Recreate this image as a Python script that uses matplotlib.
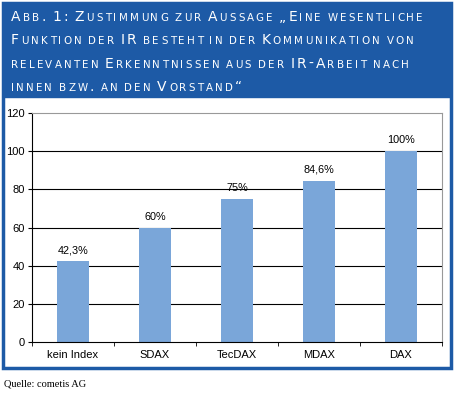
import matplotlib
matplotlib.use('Agg')
import matplotlib.pyplot as plt
from matplotlib.patches import Rectangle

categories = ['kein Index', 'SDAX', 'TecDAX', 'MDAX', 'DAX']
values = [42.3, 60, 75, 84.6, 100]
value_labels = ['42,3%', '60%', '75%', '84,6%', '100%']
title_lines = [
    'Abb. 1: Zustimmung zur Aussage \u201eEine wesentliche',
    'Funktion der IR besteht in der Kommunikation von',
    'relevanten Erkenntnissen aus der IR-Arbeit nach',
    'innen bzw. an den Vorstand\u201c',
]
source = 'Quelle: cometis AG'

W, H = 454, 397
frame_blue = '#1d5aa6'
bar_blue = '#7aa6d9'

fig = plt.figure(figsize=(W / 100, H / 100), dpi=100)


def fx(px):
    return px / W


def fy(py):
    return 1 - py / H


# frame and header
fig.patches.append(Rectangle((fx(3), fy(368)), fx(448), 365 / H, transform=fig.transFigure,
                             facecolor='white', edgecolor=frame_blue, linewidth=2.5, zorder=-2))
fig.patches.append(Rectangle((fx(3), fy(97)), fx(448), 94 / H, transform=fig.transFigure,
                             facecolor=frame_blue, edgecolor=frame_blue, linewidth=1, zorder=-1))

renderer = fig.canvas.get_renderer()


def small_caps(x, y, s, size, track=1.0):
    # fake small caps: lowercase letters drawn as smaller capitals
    for ch in s:
        if ch == ' ':
            x += size * 0.45
            continue
        if ch.islower():
            txt, sz = ch.upper(), size * 0.74
        else:
            txt, sz = ch, size
        t = fig.text(fx(x), fy(y), txt, fontsize=sz, family='DejaVu Sans', color='white',
                     ha='left', va='baseline')
        x += t.get_window_extent(renderer).width + track


for i, line in enumerate(title_lines):
    small_caps(11, 21 + i * 23.3, line, 10, 2.2)

ax = fig.add_axes([fx(32), fy(342), fx(410), (342 - 113) / H])
ax.set_zorder(2)
x = range(len(categories))
ax.bar(x, values, width=0.4, color=bar_blue, zorder=2)
for xi, v, lab in zip(x, values, value_labels):
    ax.text(xi, v + 3, lab, ha='center', va='bottom', fontsize=7.8, family='Liberation Sans')

ax.set_xlim(-0.5, len(categories) - 0.5)
ax.set_ylim(0, 120)
ax.set_yticks(range(0, 121, 20))
ax.set_xticks(x)
ax.set_xticklabels(categories, family='Liberation Sans', fontsize=8)
ax.set_xticks([i + 0.5 for i in range(-1, len(categories))], minor=True)
ax.tick_params(axis='x', which='major', length=0, pad=6)
ax.tick_params(axis='x', which='minor', length=3, direction='out')
ax.tick_params(axis='y', length=3, direction='out', pad=2, labelsize=8)
for lab in ax.get_yticklabels():
    lab.set_family('Liberation Sans')
for yv in range(20, 101, 20):
    ax.axhline(yv, color='black', linewidth=0.8, zorder=1)
for side in ['top', 'right']:
    ax.spines[side].set_color('#999999')
    ax.spines[side].set_linewidth(0.8)
for side in ['left', 'bottom']:
    ax.spines[side].set_color('black')
    ax.spines[side].set_linewidth(0.8)

fig.text(fx(4), fy(387), source, fontsize=7.5, family='Liberation Serif', ha='left', va='baseline')

fig.savefig('out.png', dpi=100)
